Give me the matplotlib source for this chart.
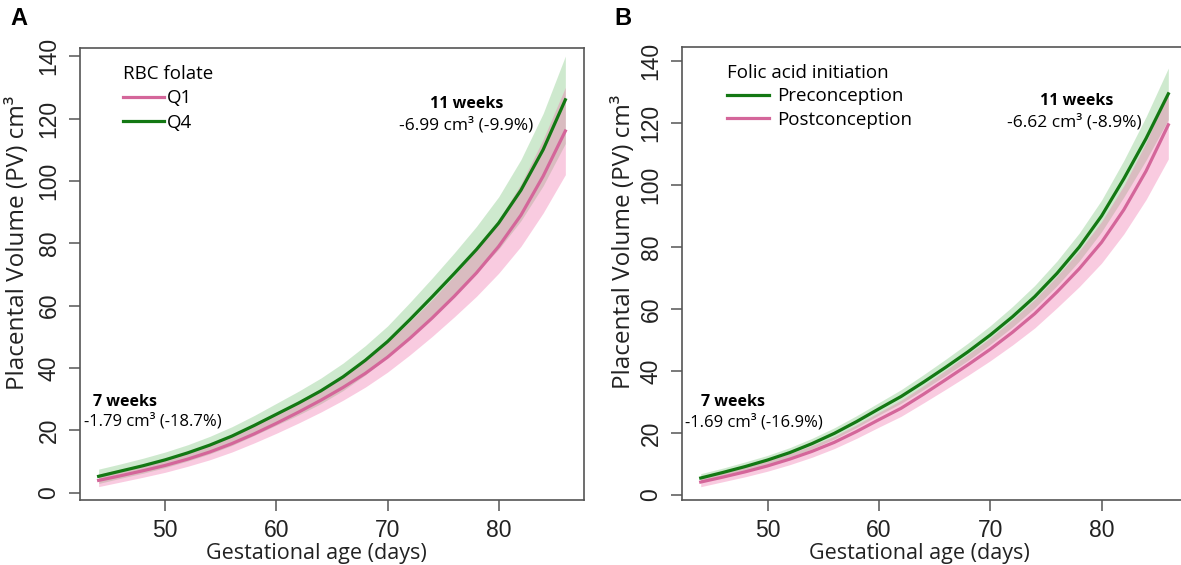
import numpy as np
import matplotlib.pyplot as plt

# gestational age (days) at which curves were read
days = [44, 46, 48, 50, 52, 54, 56, 58, 60, 62, 64, 66, 68, 70, 72, 74, 76, 78, 80, 82, 84, 86]

# panel A: RBC folate quartiles
q4 = [5.3, 7.0, 8.7, 10.6, 12.8, 15.3, 18.2, 21.6, 25.2, 28.8, 32.7, 37.2, 42.5, 48.5,
      55.5, 62.8, 70.3, 78.0, 86.5, 97.0, 110.0, 126.0]
q1 = [4.0, 5.5, 7.1, 8.8, 10.8, 13.1, 15.8, 18.9, 22.3, 25.9, 29.7, 33.8, 38.3, 43.5,
      49.5, 56.0, 63.0, 70.5, 79.0, 89.0, 101.5, 116.0]
q4_ci = [2.3, 2.3, 2.4, 2.5, 2.6, 2.8, 3.0, 3.2, 3.5, 3.8, 4.1, 4.4, 4.7, 5.0,
         5.5, 6.0, 6.6, 7.4, 8.4, 9.8, 11.6, 14.0]
q1_ci = [2.0, 2.0, 2.1, 2.2, 2.3, 2.5, 2.7, 2.9, 3.2, 3.5, 3.8, 4.1, 4.4, 4.8,
         5.3, 5.9, 6.6, 7.5, 8.6, 10.0, 11.8, 14.0]

# panel B: folic acid initiation
pre = [5.5, 7.3, 9.2, 11.3, 13.7, 16.6, 19.9, 23.7, 27.8, 31.8, 36.4, 41.2, 46.2, 51.6,
       57.5, 64.0, 71.5, 80.0, 90.0, 102.0, 115.0, 129.4]
post = [4.2, 5.8, 7.5, 9.4, 11.6, 14.1, 17.0, 20.5, 24.3, 28.0, 32.5, 37.2, 42.0, 47.0,
        52.5, 58.5, 65.5, 73.0, 81.5, 92.0, 104.5, 119.4]
pre_ci = [1.4, 1.4, 1.5, 1.5, 1.6, 1.7, 1.8, 1.9, 2.0, 2.2, 2.4, 2.6, 2.8, 3.0,
          3.3, 3.6, 4.0, 4.5, 5.1, 5.9, 7.0, 8.3]
post_ci = [1.5, 1.5, 1.6, 1.7, 1.8, 1.9, 2.0, 2.2, 2.4, 2.6, 2.8, 3.1, 3.4, 3.7,
           4.1, 4.6, 5.1, 5.8, 6.7, 7.8, 9.2, 11.0]

GREEN = '#137813'
PINK = '#d4669a'
GREEN_FILL = '#5fb85f'
PINK_FILL = '#f06aa8'
TXT = 'Open Sans'

fig = plt.figure(figsize=(11.81, 5.65), dpi=100)
axA = fig.add_axes([0.0677, 0.115, 0.4268, 0.800])
axB = fig.add_axes([0.5775, 0.115, 0.4276, 0.8018])


def band(ax, y, ci, fill, line, label, a):
    y = np.array(y)
    ci = np.array(ci)
    ax.fill_between(days, y - ci, y + ci, color=fill, alpha=a, lw=0)
    ax.plot(days, y, color=line, lw=2.3, label=label)


def style(ax, ylim):
    ax.set_xlim(42.32, 87.68)
    ax.set_ylim(*ylim)
    ax.set_xticks([50, 60, 70, 80])
    ax.set_yticks([0, 20, 40, 60, 80, 100, 120, 140])
    for s in ax.spines.values():
        s.set_color('#555555')
        s.set_linewidth(1.2)
    ax.tick_params(direction='out', length=8, width=1.1, color='#555555',
                   labelsize=16.5, pad=6, labelcolor='#222222')
    for t in ax.get_yticklabels():
        t.set_rotation(90)
        t.set_va('center')
        t.set_fontfamily('Liberation Sans')
    for t in ax.get_xticklabels():
        t.set_fontfamily('Liberation Sans')
    ax.set_xlabel('Gestational age (days)', fontsize=15.5, family=TXT, color='#222222')
    ax.xaxis.set_label_coords(0.47, -0.095)
    ax.set_ylabel('Placental Volume (PV) cm\u00b3', fontsize=17.5, family=TXT, color='#222222')


# panel A
band(axA, q4, q4_ci, GREEN_FILL, GREEN, 'Q4', 0.3)
band(axA, q1, q1_ci, PINK_FILL, PINK, 'Q1', 0.35)
style(axA, (-2.3, 142.6))
axA.yaxis.set_label_coords(-0.10, 0.57)
h, l = axA.get_legend_handles_labels()
legA = axA.legend(h[::-1], l[::-1], title='RBC folate', loc='upper left',
                  bbox_to_anchor=(0.07, 0.98), frameon=False, handlelength=2.2,
                  handletextpad=0.15, labelspacing=0.35, borderaxespad=0,
                  prop={'family': TXT, 'size': 13.5}, alignment='left')
legA.get_title().set_fontfamily(TXT)
legA.get_title().set_fontsize(13.5)

axA.text(77.1, 124.7, '11 weeks', ha='center', va='center', fontsize=11.5,
         fontweight='bold', family=TXT)
axA.text(77.1, 118.0, '-6.99 cm\u00b3 (-9.9%)', ha='center', va='center', fontsize=12.5,
         family=TXT)
axA.text(46.4, 29.2, '7 weeks', ha='center', va='center', fontsize=11.5,
         fontweight='bold', family=TXT)
axA.text(48.9, 23.1, '-1.79 cm\u00b3 (-18.7%)', ha='center', va='center', fontsize=12,
         family=TXT)

# panel B
band(axB, pre, pre_ci, GREEN_FILL, GREEN, 'Preconception', 0.3)
band(axB, post, post_ci, PINK_FILL, PINK, 'Postconception', 0.35)
style(axB, (-1.6, 144.5))
axB.yaxis.set_label_coords(-0.092, 0.57)
legB = axB.legend(title='Folic acid initiation', loc='upper left',
                  bbox_to_anchor=(0.075, 0.98), frameon=False, handlelength=2.2,
                  handletextpad=0.45, labelspacing=0.3, borderaxespad=0,
                  prop={'family': TXT, 'size': 13.5}, alignment='left')
legB.get_title().set_fontfamily(TXT)
legB.get_title().set_fontsize(13.5)

axB.text(77.8, 127.0, '11 weeks', ha='center', va='center', fontsize=11.5,
         fontweight='bold', family=TXT)
axB.text(77.6, 120.3, '-6.62 cm\u00b3 (-8.9%)', ha='center', va='center', fontsize=12.5,
         family=TXT)
axB.text(46.9, 30.0, '7 weeks', ha='center', va='center', fontsize=11.5,
         fontweight='bold', family=TXT)
axB.text(48.8, 23.5, '-1.69 cm\u00b3 (-16.9%)', ha='center', va='center', fontsize=12,
         family=TXT)

fig.text(0.009, 0.955, 'A', fontsize=17, fontweight='bold', family='Liberation Sans')
fig.text(0.52, 0.955, 'B', fontsize=17, fontweight='bold', family='Liberation Sans')

fig.savefig('out.png', dpi=100)
